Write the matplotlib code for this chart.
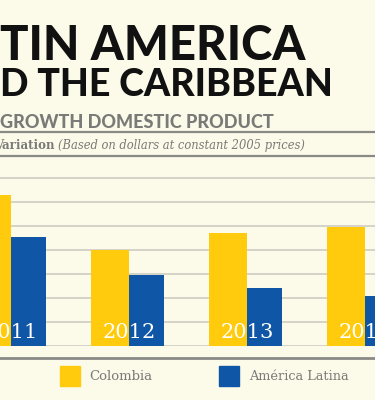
import numpy as np
import matplotlib.pyplot as plt
from matplotlib.patches import Rectangle
from matplotlib.lines import Line2D

years = ["2011", "2012", "2013", "2014"]
colombia = [6.3, 4.0, 4.7, 4.95]
latam = [4.55, 2.95, 2.4, 2.1]

bg = "#fcfae8"
yellow = "#ffcb0c"
blue = "#0f56a6"
gray = "#7a7a78"

fig = plt.figure(figsize=(3.75, 4.0), dpi=100, facecolor=bg)

# titles
fig.text(0.0, 0.849, "TIN AMERICA", fontsize=34, fontfamily="Lato",
         fontweight="black", color="#111111", va="baseline")
fig.text(0.0, 0.759, "D THE CARIBBEAN", fontsize=27, fontfamily="Lato",
         fontweight="black", color="#111111", va="baseline")
fig.text(0.0, 0.68, "GROWTH DOMESTIC PRODUCT", fontsize=13, fontfamily="Lato",
         fontweight="black", color=gray, va="baseline")
fig.text(-0.015, 0.627, "Variation", fontsize=8.5, fontfamily="DejaVu Serif",
         fontweight="bold", color=gray, va="baseline")
fig.text(0.155, 0.627, "(Based on dollars at constant 2005 prices)", fontsize=8.3,
         fontfamily="DejaVu Serif", style="italic", color=gray, va="baseline")

for y, lw in [(0.669, 1.6), (0.61, 1.6), (0.105, 2.0)]:
    fig.add_artist(Line2D([0, 1], [y, y], color="#8a8a86", lw=lw))

ax = fig.add_axes([0, 0.135, 1, 0.4725])
ax.set_facecolor(bg)
x = np.arange(len(years))
ax.bar(x, colombia, width=-0.322, align="edge", color=yellow, zorder=2)
ax.bar(x, latam, width=0.297, align="edge", color=blue, zorder=2)
for v in range(0, 8):
    ax.axhline(v, color="#cfcdc2", lw=1.2, zorder=1)
for xi, yr in zip(x, years):
    ax.text(xi, 0.55, yr, color="white", fontsize=15, fontfamily="DejaVu Serif",
            ha="center", va="center", zorder=3)
ax.set_xlim(-0.093, 3.085)
ax.set_ylim(0, 7.875)
ax.axis("off")

# legend
fig.add_artist(Rectangle((60 / 375, 1 - 386 / 400), 20 / 375, 20 / 400,
                         transform=fig.transFigure, color=yellow))
fig.add_artist(Rectangle((219 / 375, 1 - 386 / 400), 20 / 375, 20 / 400,
                         transform=fig.transFigure, color=blue))
fig.text(89 / 375, 1 - 377 / 400, "Colombia", fontsize=9.5, fontfamily="DejaVu Serif",
         color=gray, va="center")
fig.text(249 / 375, 1 - 377 / 400, "América Latina", fontsize=9.3,
         fontfamily="DejaVu Serif", color=gray, va="center")

fig.savefig("out.png", dpi=100, facecolor=bg)
